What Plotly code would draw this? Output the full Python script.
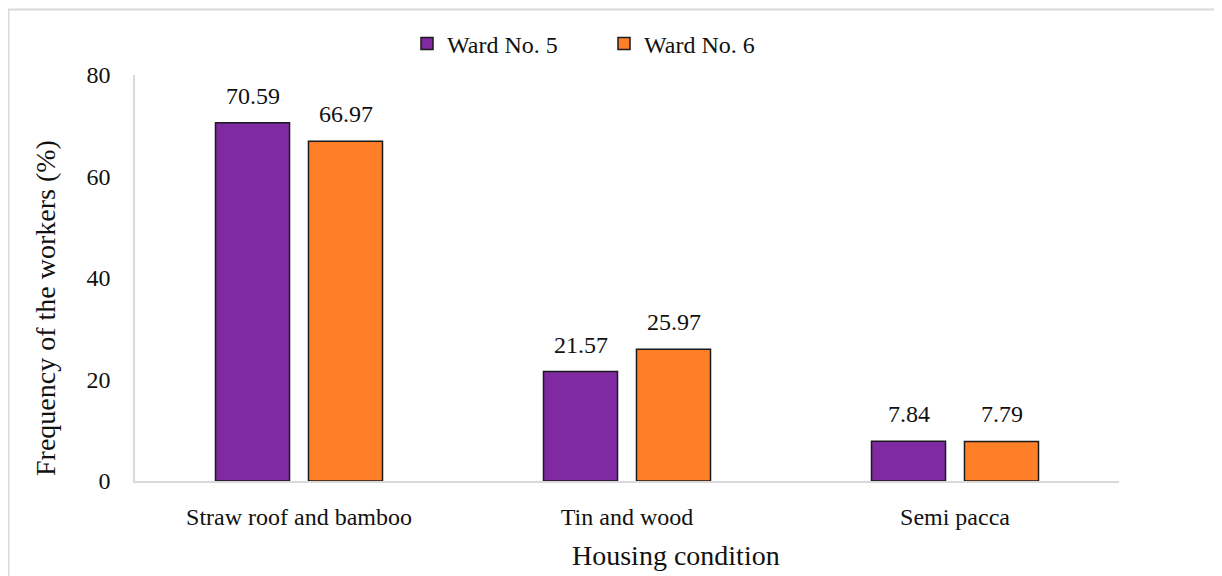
import plotly.graph_objects as go

# Housing condition of the workers, by ward
categories = ["Straw roof and bamboo", "Tin and wood", "Semi pacca"]
ward5 = [70.59, 21.57, 7.84]
ward6 = [66.97, 25.97, 7.79]
series_names = ["Ward No. 5", "Ward No. 6"]
y_ticks = [0, 20, 40, 60, 80]

FONT = "Liberation Serif, Times New Roman, serif"
colors = ["#7f2aa0", "#fe7f27"]

# the page puts the figure 8px in from the window corner
OFF = 8
W, H = 1214, 568
L, R, T, B = 127, 103, 67, 95
pw, ph = W - L - R, H - T - B


# screen pixel -> paper coords
def px_x(x):
    return (x - OFF - L) / pw


def px_y(y):
    return (H - B - (y - OFF)) / ph


fig = go.Figure()
for name, vals, col in zip(series_names, [ward5, ward6], colors):
    fig.add_trace(go.Bar(
        x=categories, y=vals, name=name,
        marker=dict(color=col, line=dict(color="#1a1a1a", width=1.5)),
    ))

# value labels above the bars
shift = 46.5
for vals, sx in [(ward5, -shift), (ward6, shift)]:
    for c, v in zip(categories, vals):
        fig.add_annotation(x=c, y=v, text=f"{v:.2f}", showarrow=False,
                           xshift=sx, yanchor="bottom", yshift=12,
                           font=dict(family=FONT, size=24, color="#111"))

# axis titles (Excel places them off-centre)
fig.add_annotation(x=px_x(676), y=px_y(555), xref="paper", yref="paper",
                   xanchor="center", yanchor="middle",
                   text="Housing condition", showarrow=False,
                   font=dict(family=FONT, size=28, color="#111"))
fig.add_annotation(x=px_x(45), y=px_y(308), xref="paper", yref="paper",
                   xanchor="center", yanchor="middle",
                   text="Frequency of the workers (%)", showarrow=False, textangle=-90,
                   font=dict(family=FONT, size=28, color="#111"))

# chart border
fig.add_shape(type="rect", xref="paper", yref="paper",
              x0=px_x(8.5), y0=px_y(9.5), x1=px_x(1260), y1=px_y(620),
              line=dict(color="#d9d9d9", width=2), fillcolor="rgba(0,0,0,0)")

fig.update_layout(
    width=W, height=H,
    margin=dict(l=L, r=R, t=T, b=B),
    paper_bgcolor="white", plot_bgcolor="white",
    barmode="group", bargap=0.433, bargroupgap=0.204,
    font=dict(family=FONT, size=24, color="#111"),
    showlegend=True,
    legend=dict(orientation="h", x=px_x(604), y=px_y(44), xanchor="center", yanchor="middle",
                font=dict(family=FONT, size=24, color="#111"), itemwidth=30,
                entrywidth=152, entrywidthmode="pixels", traceorder="normal"),
    xaxis=dict(showline=True, linecolor="#d9d9d9", linewidth=1.5, ticks="",
               showgrid=False, ticklabelstandoff=13),
    yaxis=dict(range=[0, 80], tickvals=y_ticks, showline=True, linecolor="#d9d9d9",
               linewidth=1.5, showgrid=False, zeroline=False, ticks="",
               ticklabelstandoff=18),
)

fig.write_html("out.html")
